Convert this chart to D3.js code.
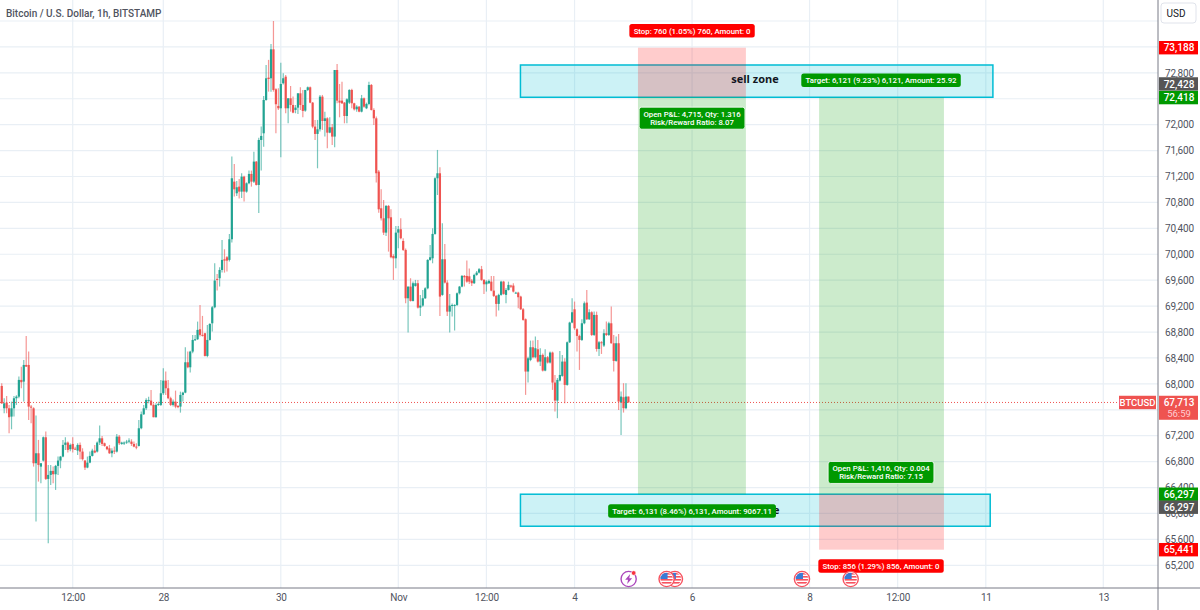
<!DOCTYPE html>
<html>
    <head>
        <title>Bitcoin / U.S. Dollar, 1h, BITSTAMP</title>
        <script src="https://d3js.org/d3.v7.min.js"></script>
        <style>
            html, body { margin: 0; padding: 0; background: white; }
            svg { display: block; font-family: Roboto, sans-serif; }
            .axis text { font-size: 10px; letter-spacing: -.2px; fill: #50535e; font-family: Roboto, sans-serif; }
            .axis .domain { display: none; }
        </style>
    </head>
    <body>
        <svg id='canvas' width=1200 height=610></svg>
        <script>
            // hourly candles, the first one is 66 hours before the "28" tick
            const firstBarHour = -66
            const opens = [
                67968,67623,67711,67623,67495,67623,67778,67803,68061,68035,
                68292,68292,67649,67623,66775,66929,66723,66816,67176,66533,
                66595,66657,66605,66734,66816,66878,67058,67094,66991,67073,
                67000,66970,67058,66955,66816,66708,66785,66888,66970,66955,
                67094,67160,67083,67032,67006,66929,66970,66955,67186,67073,
                67083,67094,67109,67109,67073,67032,67042,67315,67531,67623,
                67745,67742,67675,67485,67675,67675,67855,68050,67932,67778,
                67675,67726,67659,67649,67829,67865,68333,68256,68498,68678,
                68689,68843,68756,68781,68431,68678,68935,69182,69620,69630,
                69758,69923,69954,69913,70232,71121,70941,71044,70967,71198,
                70967,71096,71240,71121,71430,71070,71764,71867,72381,72726,
                72716,73163,72546,72289,72253,72639,72741,72253,72407,72304,
                72227,72263,72484,72304,72217,72536,72577,72340,71970,71857,
                71929,72433,72057,72098,71877,71960,71816,72844,72371,72371,
                72340,72134,72340,72536,72330,72237,72278,72201,72407,72253,
                72320,72613,72227,72098,71276,70710,70555,70334,70746,70571,
                69974,69938,70334,70386,70206,70067,69321,69501,69280,69511,
                69553,69177,69208,69321,69475,69913,69938,70314,71173,71250,
                69373,69923,69563,69115,69203,69203,69218,69398,69501,69666,
                69666,69660,69594,69553,69681,69717,69769,69604,69537,69553,
                69578,69439,69357,69234,69373,69578,69373,69450,69517,69517,
                69400,69408,69347,69151,68997,68190,68370,68565,68411,68534,
                68344,68447,68205,68411,68329,68483,68020,67742,68051,68123,
                68344,67984,68642,68946,69151,68843,68740,68678,68935,69254,
                68997,69105,68755,69064,68539,68642,68591,68781,68755,68935,
                68627,68354,68627,67711,67794,67624,67804
            ]
            const highs = [
                68009,67778,67814,67675,67726,67814,67824,68112,68266,68369,
                68739,68498,67675,67639,67510,67135,66775,67186,67263,66749,
                66749,66723,66749,66878,66888,67135,67176,67109,67080,67176,
                67030,67083,67094,67006,66826,66878,66955,67000,67058,67109,
                67356,67197,67094,67042,67058,67006,67032,67227,67212,67105,
                67109,67135,67160,67145,67109,67083,67443,67572,67675,67778,
                67800,67906,67700,67700,67725,68061,68240,68189,68061,67803,
                67760,67896,67675,67880,67880,68565,68498,68513,68755,68756,
                68961,69218,69049,68790,68910,68935,69203,69861,69697,69800,
                70221,70077,69974,70314,71507,71394,71130,71160,71250,71210,
                71110,71291,71291,71584,71440,71800,71970,72443,72921,73000,
                73245,73600,72561,72561,72957,72793,72766,72407,72597,72433,
                72304,72484,72577,72536,72536,72590,72590,72350,72073,72073,
                72459,72459,72201,72114,72114,72011,72844,72937,72628,72664,
                72350,72407,72546,72556,72340,72300,72290,72459,72420,72340,
                72664,72628,72253,72125,71300,71003,70838,70761,70761,70694,
                70000,70437,70437,70555,70247,70090,69501,69630,69578,69604,
                69604,69373,69450,69490,69923,70144,70401,71188,71610,71342,
                70478,70159,69600,69388,69240,69230,69410,69511,69681,69681,
                69902,69780,69620,69700,69740,69790,69820,69620,69600,69610,
                69666,69666,69373,69390,69590,69590,69480,69578,69530,69553,
                69420,69420,69360,69170,69010,68420,68668,68668,68730,68678,
                68550,68470,68534,68430,68498,68498,68138,68090,68508,68447,
                68395,68653,68960,69321,69270,68860,68760,68997,69270,69450,
                69150,69120,69115,69115,68660,68660,68843,68961,68960,69193,
                68755,68730,68771,67881,68010,68010,67804
            ]
            const lows = [
                67690,67546,67546,67238,67299,67495,67675,67778,67932,67726,
                68266,67443,67392,66723,65875,66492,66466,66800,66518,65540,
                66440,66466,66363,66595,66698,66868,66981,66939,66960,66939,
                66980,66903,66837,66816,66672,66698,66775,66878,66929,66939,
                67058,67042,67030,66975,66919,66868,66919,66939,67058,67060,
                67058,67073,67083,67042,67022,66991,67032,67299,67521,67598,
                67700,67659,67485,67480,67660,67659,67830,67830,67762,67659,
                67650,67623,67625,67556,67726,67855,68240,68174,68472,68660,
                68678,68730,68730,68421,68411,68668,68807,69167,69440,69501,
                69717,69717,69733,69887,70180,70890,70900,70860,70870,70813,
                70950,71080,71044,71100,71060,70638,71291,71661,72370,72510,
                72510,72510,71867,72227,71497,72620,72176,72021,72201,72176,
                72176,72165,72227,72114,72201,72520,72330,71944,71764,71327,
                71893,71919,71816,71636,71867,71687,71651,72330,72114,72320,
                72021,72021,72320,72253,72217,72200,72190,72190,72260,72240,
                72300,72217,71996,71106,70640,70520,70298,70283,70041,69938,
                69604,69784,70093,70231,70050,69244,68791,69270,69270,69500,
                69165,69048,69190,69310,69460,69900,69861,70300,70915,69048,
                69360,69550,69048,68791,69038,68822,69200,69380,69490,69501,
                69560,69540,69510,69540,69670,69705,69590,69388,69424,69540,
                69430,69340,69038,69131,69360,69375,69244,69440,69480,69410,
                69395,69167,69140,68975,67830,68020,68350,68395,68395,68330,
                68277,68190,68195,68315,68315,67907,67572,67470,68035,68110,
                67701,67970,68630,68935,68833,68498,68215,68660,68920,68985,
                68985,68740,68740,68498,68431,68462,68570,68740,68740,68620,
                68190,68340,67598,67212,67557,67610,67711
            ]
            const closes = [
                67700,67700,67623,67485,67623,67778,67803,68061,68025,68292,
                68266,67649,67639,66775,66929,66749,66775,67176,66533,66595,
                66657,66605,66734,66816,66878,67058,67094,66981,67058,66991,
                66985,67058,66955,66837,66708,66785,66888,66970,66940,67094,
                67160,67073,67042,66991,66929,66970,66955,67186,67083,67094,
                67094,67109,67125,67073,67032,67022,67315,67531,67623,67752,
                67752,67675,67485,67675,67690,67855,68050,67932,67778,67675,
                67726,67649,67640,67829,67865,68333,68256,68498,68678,68689,
                68833,68756,68745,68431,68678,68925,69182,69594,69604,69758,
                69913,69902,69902,70232,71173,71003,71034,70967,71198,70967,
                71096,71240,71121,71430,71070,71764,71826,72381,72716,72705,
                73163,72536,72315,72253,72628,72716,72253,72407,72304,72186,
                72263,72484,72304,72212,72536,72577,72340,71970,71857,71929,
                72433,72057,72098,71877,71960,71816,72844,72371,72340,72330,
                72134,72392,72536,72330,72237,72278,72201,72407,72278,72320,
                72613,72227,72098,71250,70694,70555,70334,70746,70555,69954,
                69938,70334,70386,70247,70067,69321,69501,69280,69553,69553,
                69177,69208,69321,69475,69913,69954,70314,71173,71250,69347,
                69923,69563,69115,69208,69218,69218,69398,69501,69666,69645,
                69578,69578,69553,69681,69717,69769,69604,69537,69578,69589,
                69439,69357,69234,69373,69578,69388,69450,69527,69500,69424,
                69408,69337,69151,68987,68190,68395,68565,68411,68550,68344,
                68447,68205,68411,68329,68483,68020,67742,68061,68138,68344,
                67984,68642,68946,69105,68858,68740,68678,68935,69244,68997,
                69105,68755,69064,68539,68642,68627,68781,68755,68935,68627,
                68354,68627,67727,67804,67624,67804,67713
            ]

            // axes, hours are counted from the "28" tick
            const priceTicks = d3.range(65200, 73601, 400)
            const hiddenPrices = [73600, 73200, 72400, 67600]
            const timeTicks = [-37, 0, 48, 96, 132, 168, 216, 264, 300, 336, 384]
            const timeLabels = ['12:00', '28', '30', 'Nov', '12:00', '4', '6', '8', '12:00', '11', '13']

            // zones: start hour, end hour, top price, bottom price
            const zoneStarts = [145.9, 145.9]
            const zoneEnds = [338.9, 337.8]
            const zoneTops = [72921, 66297]
            const zoneBottoms = [72423, 65803]
            const zoneNames = ['sell zone', 'buy zone']
            const zoneNamePrices = [72690, 66039]
            const zoneNameHour = 241.7

            // short and long position boxes
            const boxStarts = [193.9, 267.9]
            const boxEnds = [238, 318.9]
            const boxEntries = [72428, 66297]
            const boxStops = [73188, 65441]
            const boxTargets = [66297, 72418]

            const lastPrice = 67713
            const countdown = '56:59'

            // price tags on the right
            const tagPrices = [73188, 72428, 72418, 66297, 66297, 65441]
            const tagColors = ['#ff0000', '#555555', '#009900', '#009900', '#555555', '#ff0000']
            const tagShifts = [0, -13, 0, 0, 13, 0]

            // labels of the position tool
            const labelHours = [216, 293.2, 216, 293.2, 216, 293.2]
            const labelPrices = [73450, 72685, 72100, 66633, 66039, 65191]
            const labelColors = ['#ff0000', '#009900', '#009900', '#009900', '#009900', '#ff0000']
            const labelTexts = [
                ['Stop: 760 (1.05%) 760, Amount: 0'],
                ['Target: 6,121 (9.23%) 6,121, Amount: 25.92'],
                ['Open P&L: 4,715, Qty: 1.316', 'Risk/Reward Ratio: 8.07'],
                ['Open P&L: 1,416, Qty: 0.004', 'Risk/Reward Ratio: 7.15'],
                ['Target: 6,131 (8.46%) 6,131, Amount: 9067.11'],
                ['Stop: 856 (1.29%) 856, Amount: 0']
            ]

            const eventHour = 190.1
            const flagHours = [209, 205.6, 260.9, 280.8]

            // colors
            const up = '#22a392'
            const down = '#ef5350'
            const gridColor = '#e9eff5'
            const axisColor = '#787b86'

            const plotRight = 1158
            const plotBottom = 588

            const svg = d3.select('#canvas')
            const xScale = d3.scaleLinear().domain([0, 384]).range([163.3, 1103.3])
            const yScale = d3.scaleLinear().domain([65200, 73600]).range([565.3, 21])

            // grid
            const grid = svg.append('g')
            grid.selectAll('.h').data(priceTicks).enter().append('line')
                .attr('x1', 0).attr('x2', plotRight)
                .attr('y1', d => yScale(d)).attr('y2', d => yScale(d))
                .attr('stroke', gridColor).attr('stroke-width', 1.2)
            grid.selectAll('.v').data(timeTicks).enter().append('line')
                .attr('x1', d => xScale(d)).attr('x2', d => xScale(d))
                .attr('y1', 0).attr('y2', plotBottom)
                .attr('stroke', gridColor).attr('stroke-width', 1.2)

            // candles
            const candles = svg.append('g')
            const bars = d3.range(closes.length)
            const barColor = i => closes[i] >= opens[i] ? up : down
            candles.selectAll('line').data(bars).enter().append('line')
                .attr('x1', i => xScale(i + firstBarHour)).attr('x2', i => xScale(i + firstBarHour))
                .attr('y1', i => yScale(highs[i])).attr('y2', i => yScale(lows[i]))
                .attr('stroke', barColor).attr('stroke-width', 1.2).attr('opacity', .6)
            candles.selectAll('rect').data(bars).enter().append('rect')
                .attr('x', i => xScale(i + firstBarHour) - 1.1)
                .attr('width', 2.2)
                .attr('y', i => yScale(Math.max(opens[i], closes[i])))
                .attr('height', i => Math.max(1, Math.abs(yScale(opens[i]) - yScale(closes[i]))))
                .attr('fill', barColor)

            // last price line
            svg.append('line')
                .attr('x1', 0).attr('x2', plotRight)
                .attr('y1', yScale(lastPrice)).attr('y2', yScale(lastPrice))
                .attr('stroke', down).attr('stroke-width', 1).attr('stroke-dasharray', '1 2')

            // zones
            zoneStarts.forEach((start, i) => {
                svg.append('rect')
                    .attr('x', xScale(start))
                    .attr('y', yScale(zoneTops[i]))
                    .attr('width', xScale(zoneEnds[i]) - xScale(start))
                    .attr('height', yScale(zoneBottoms[i]) - yScale(zoneTops[i]))
                    .attr('fill', 'rgba(0,188,212,.2)')
                    .attr('stroke', '#00bcd4')
                    .attr('stroke-width', 1.5)
            })

            // position boxes go over the zones
            const boxes = svg.append('g')
            boxStarts.forEach((start, i) => {
                const rows = [[boxEntries[i], boxStops[i], 'rgba(255,0,0,.2)'], [boxEntries[i], boxTargets[i], 'rgba(0,153,0,.2)']]
                rows.forEach(r => {
                    boxes.append('rect')
                        .attr('x', xScale(start))
                        .attr('width', xScale(boxEnds[i]) - xScale(start))
                        .attr('y', Math.min(yScale(r[0]), yScale(r[1])))
                        .attr('height', Math.abs(yScale(r[0]) - yScale(r[1])))
                        .attr('fill', r[2])
                })
            })

            // zone names
            zoneNames.forEach((name, i) => {
                svg.append('text').text(name)
                    .attr('x', xScale(zoneNameHour))
                    .attr('y', yScale(zoneNamePrices[i]))
                    .attr('text-anchor', 'middle')
                    .attr('dominant-baseline', 'middle')
                    .attr('font-family', 'Open Sans')
                    .attr('font-size', 11)
                    .attr('font-weight', 700)
                    .attr('fill', '#131722')
            })

            // labels, the pill is sized from the text
            labelTexts.forEach((lines, i) => {
                const g = svg.append('g')
                    .attr('transform', `translate(${xScale(labelHours[i])}, ${yScale(labelPrices[i])})`)
                const pill = g.append('rect')
                const lineHeight = 8.5
                const text = g.append('text')
                    .attr('text-anchor', 'middle')
                    .attr('fill', 'white')
                    .attr('font-weight', 500)
                    .attr('font-size', 7.8)
                lines.forEach((line, j) => {
                    text.append('tspan').text(line)
                        .attr('x', 0)
                        .attr('y', (j - (lines.length - 1) / 2) * lineHeight)
                        .attr('dy', 2.8)
                })
                const width = text.node().getBBox().width
                const height = lines.length * lineHeight + 5
                pill.attr('x', -width / 2 - 4).attr('y', -height / 2)
                    .attr('width', width + 8).attr('height', height)
                    .attr('rx', 2.5)
                    .attr('fill', labelColors[i])
                    .attr('stroke', 'white').attr('stroke-width', lines.length > 1 ? .8 : 0)
            })

            // event markers
            const markerY = 579
            const flag = hour => {
                const cx = xScale(hour)
                const id = 'clip' + String(hour).replace('.', '_')
                svg.append('clipPath').attr('id', id).append('circle')
                    .attr('cx', cx).attr('cy', markerY).attr('r', 6.2)
                svg.append('circle').attr('cx', cx).attr('cy', markerY).attr('r', 7.6)
                    .attr('fill', 'white').attr('stroke', '#f7525f').attr('stroke-width', 1.4)
                const g = svg.append('g').attr('clip-path', `url(#${id})`)
                d3.range(4).forEach(k => {
                    g.append('rect').attr('x', cx - 7).attr('y', markerY + (k - 2) * 3).attr('width', 14).attr('height', 1.6)
                        .attr('fill', '#f7525f')
                })
                g.append('rect').attr('x', cx - 7).attr('y', markerY - 7).attr('width', 8).attr('height', 7).attr('fill', '#3a7bd5')
            }
            flagHours.forEach(flag)

            const ex = xScale(eventHour)
            svg.append('circle').attr('cx', ex).attr('cy', markerY).attr('r', 7.6)
                .attr('fill', 'white').attr('stroke', '#ab47bc').attr('stroke-width', 1.4)
            svg.append('path')
                .attr('transform', `translate(${ex}, ${markerY})`)
                .attr('d', 'M1.5,-5 L-3.5,0.8 L-0.6,0.8 L-1.5,5 L3.5,-0.8 L0.6,-0.8 Z')
                .attr('fill', '#ab47bc')
            svg.append('circle').attr('cx', ex + 5).attr('cy', markerY - 6).attr('r', 2.3)
                .attr('fill', '#f7323f').attr('stroke', 'white').attr('stroke-width', .6)

            // axes
            svg.append('g').classed('axis', true)
                .attr('transform', `translate(0, ${plotBottom})`)
                .call(d3.axisBottom(xScale).tickValues(timeTicks).tickFormat((d, i) => timeLabels[i]).tickSize(0).tickPadding(6))
            svg.append('g').classed('axis', true)
                .attr('transform', `translate(${plotRight}, 0)`)
                .call(d3.axisRight(yScale)
                    .tickValues(priceTicks.filter(d => !hiddenPrices.includes(d)))
                    .tickFormat(d3.format(','))
                    .tickSize(0)
                    .tickPadding(7))
            svg.append('line').attr('x1', 0).attr('x2', 1200).attr('y1', plotBottom).attr('y2', plotBottom)
                .attr('stroke', axisColor).attr('stroke-width', 1)
            svg.append('line').attr('x1', plotRight).attr('x2', plotRight).attr('y1', 0).attr('y2', 610)
                .attr('stroke', axisColor).attr('stroke-width', 1)

            // price tags
            tagPrices.forEach((price, i) => {
                const cy = yScale(price) + tagShifts[i]
                svg.append('rect').attr('x', plotRight + 1).attr('y', cy - 6.7).attr('width', 39).attr('height', 13.4)
                    .attr('fill', tagColors[i])
                svg.append('text').text(d3.format(',')(price))
                    .attr('x', 1179).attr('y', cy).attr('dy', '.36em')
                    .attr('text-anchor', 'middle').attr('fill', 'white')
                    .attr('font-size', 10).attr('font-weight', 500)
            })

            // last price tag and symbol
            const ly = yScale(lastPrice)
            svg.append('rect').attr('x', 1119).attr('y', ly - 6.7).attr('width', 37).attr('height', 13.4).attr('fill', down)
            svg.append('text').text('BTCUSD').attr('x', 1137.5).attr('y', ly).attr('dy', '.36em')
                .attr('text-anchor', 'middle').attr('fill', 'white').attr('font-size', 9.5).attr('font-weight', 500)
            svg.append('rect').attr('x', plotRight + 1).attr('y', ly - 6.7).attr('width', 39).attr('height', 24).attr('fill', down)
            svg.append('text').text(d3.format(',')(lastPrice)).attr('x', 1179).attr('y', ly).attr('dy', '.36em')
                .attr('text-anchor', 'middle').attr('fill', 'white').attr('font-size', 10).attr('font-weight', 500)
            svg.append('text').text(countdown).attr('x', 1179).attr('y', ly + 11).attr('dy', '.36em')
                .attr('text-anchor', 'middle').attr('fill', '#ffcdd2').attr('font-size', 9.5)

            // currency button
            svg.append('rect').attr('x', 1161).attr('y', 3).attr('width', 35).attr('height', 20).attr('rx', 3)
                .attr('fill', 'white').attr('stroke', '#e0e3eb')
            svg.append('text').text('USD').attr('x', 1176).attr('y', 13.5).attr('dy', '.36em')
                .attr('text-anchor', 'middle').attr('fill', '#131722').attr('font-size', 10)

            // title
            svg.append('text').text('Bitcoin / U.S. Dollar, 1h, BITSTAMP')
                .attr('x', 6).attr('y', 13).attr('dy', '.36em')
                .attr('font-size', 10).attr('font-weight', 500).attr('fill', '#50535e')
        </script>
    </body>
</html>
